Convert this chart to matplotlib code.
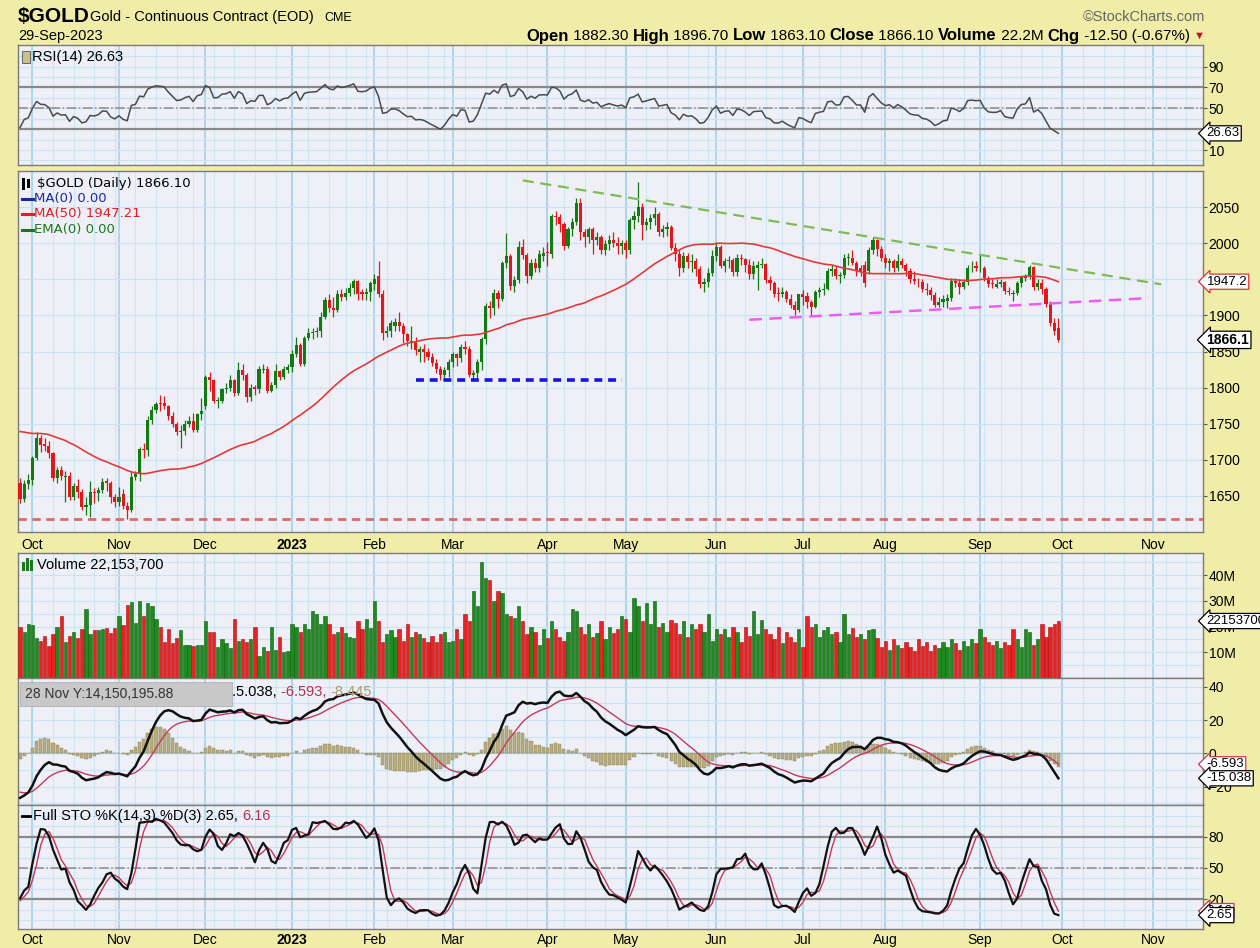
import numpy as np
import pandas as pd
import matplotlib
matplotlib.use("Agg")
import matplotlib.pyplot as plt
from matplotlib.lines import Line2D
from matplotlib.patches import Rectangle

W, H = 1260, 948
NARROW = ["Liberation Sans Narrow", "Liberation Sans", "DejaVu Sans"]
plt.rcParams["font.family"] = NARROW

BG = "#efeda8"
PANEL = "#eff0f7"
GREEN = "#137a13"
RED = "#e3161b"

# ---- data: $GOLD daily, 28-Sep-2022 .. 29-Sep-2023 ----
holidays = ["2022-11-24", "2022-12-26", "2023-01-02", "2023-01-16", "2023-02-20",
            "2023-04-07", "2023-05-29", "2023-06-19", "2023-07-04", "2023-09-04"]

# closes before the visible window (Jul..Sep 2022), used only to warm up the indicators
pre_closes = [1811, 1773, 1746, 1749, 1752, 1741, 1735, 1745, 1715, 1713,
              1719, 1721, 1705, 1728, 1737, 1729, 1727, 1747, 1760, 1782,
              1787, 1776, 1777, 1807, 1791, 1812, 1812, 1813, 1807, 1816,
              1797, 1790, 1776, 1771, 1762, 1748, 1761, 1761, 1771, 1750,
              1749, 1736, 1726, 1709, 1722, 1713, 1727, 1721, 1728, 1735,
              1712, 1709, 1677, 1683, 1678, 1671, 1675, 1681, 1655, 1640, 1662]
pre_highs = [1752, 1740, 1726, 1730, 1728, 1732, 1731, 1737, 1745, 1738,
             1716, 1708, 1690, 1690, 1686, 1688, 1690, 1684, 1659, 1668]
pre_lows = [1732, 1720, 1700, 1702, 1704, 1708, 1714, 1718, 1723, 1704,
            1696, 1665, 1667, 1663, 1660, 1655, 1668, 1646, 1624, 1633]

opens = [1668, 1646, 1667, 1672, 1702, 1730, 1722, 1719, 1709, 1675,
         1686, 1676, 1678, 1649, 1664, 1656, 1634, 1637, 1656, 1654,
         1658, 1670, 1668, 1648, 1641, 1652, 1636, 1630, 1676, 1680,
         1715, 1713, 1755, 1769, 1777, 1779, 1774, 1761, 1750, 1738,
         1740, 1749, 1754, 1741, 1763, 1775, 1815, 1810, 1781, 1782,
         1798, 1800, 1810, 1792, 1825, 1818, 1787, 1801, 1798, 1824,
         1826, 1795, 1804, 1823, 1815, 1824, 1828, 1846, 1859, 1833,
         1869, 1875, 1877, 1879, 1898, 1921, 1910, 1907, 1930, 1926,
         1931, 1938, 1947, 1932, 1929, 1932, 1944, 1955, 1930, 1876,
         1879, 1885, 1891, 1885, 1874, 1862, 1865, 1850, 1853, 1850,
         1842, 1834, 1826, 1817, 1824, 1836, 1846, 1841, 1856, 1854,
         1818, 1820, 1835, 1867, 1913, 1910, 1931, 1923, 1973, 1982,
         1941, 1949, 1995, 1983, 1954, 1973, 1965, 1982, 1986, 1985,
         2038, 2036, 2026, 1996, 2019, 2029, 2055, 2015, 2008, 2019,
         2005, 2009, 1990, 1999, 2005, 2000, 1996, 2000, 1991, 2032,
         2037, 2050, 2025, 2030, 2035, 2040, 2016, 2019, 2022, 1994,
         1985, 1965, 1982, 1974, 1975, 1964, 1944, 1946, 1959, 1982,
         1995, 1969, 1975, 1977, 1960, 1980, 1978, 1970, 1958, 1966,
         1970, 1971, 1949, 1945, 1930, 1929, 1933, 1923, 1915, 1908,
         1929, 1927, 1918, 1912, 1932, 1935, 1937, 1962, 1964, 1955,
         1956, 1979, 1980, 1972, 1965, 1970, 1962, 1990, 2004, 1992,
         1980, 1972, 1975, 1966, 1976, 1970, 1961, 1950, 1947, 1946,
         1937, 1935, 1928, 1915, 1918, 1920, 1924, 1948, 1945, 1940,
         1946, 1965, 1968, 1965, 1966, 1952, 1944, 1940, 1943, 1946,
         1934, 1929, 1931, 1945, 1952, 1954, 1967, 1940, 1945, 1936,
         1916, 1890, 1882.3]
highs = [1675, 1672, 1680, 1705, 1738, 1735, 1730, 1726, 1711, 1690,
         1691, 1685, 1683, 1668, 1673, 1660, 1648, 1670, 1661, 1662,
         1675, 1675, 1670, 1652, 1662, 1660, 1642, 1683, 1684, 1718,
         1723, 1760, 1774, 1780, 1790, 1788, 1776, 1766, 1752, 1748,
         1755, 1760, 1765, 1765, 1785, 1818, 1821, 1812, 1787, 1800,
         1806, 1818, 1812, 1836, 1832, 1820, 1805, 1804, 1830, 1832,
         1830, 1808, 1833, 1825, 1830, 1833, 1852, 1870, 1862, 1872,
         1883, 1882, 1884, 1905, 1925, 1930, 1925, 1935, 1937, 1938,
         1945, 1950, 1949, 1937, 1938, 1948, 1958, 1975, 1935, 1885,
         1893, 1897, 1905, 1890, 1876, 1885, 1870, 1857, 1860, 1855,
         1848, 1840, 1830, 1828, 1840, 1850, 1848, 1860, 1865, 1857,
         1825, 1840, 1870, 1917, 1920, 1937, 1935, 1975, 2014, 1985,
         1955, 2003, 2006, 1986, 1978, 1980, 1990, 1995, 2002, 2040,
         2044, 2040, 2030, 2022, 2035, 2063, 2062, 2020, 2022, 2023,
         2015, 2012, 2005, 2012, 2015, 2008, 2005, 2005, 2035, 2045,
         2085, 2056, 2035, 2040, 2050, 2043, 2025, 2030, 2025, 2000,
         1990, 1988, 1986, 1985, 1980, 1968, 1952, 1965, 1990, 2001,
         1998, 1980, 1982, 1980, 1985, 1985, 1980, 1978, 1975, 1975,
         1980, 1972, 1955, 1948, 1940, 1940, 1935, 1930, 1920, 1930,
         1935, 1932, 1922, 1935, 1940, 1945, 1965, 1970, 1968, 1960,
         1985, 1987, 1990, 1975, 1970, 1976, 1995, 2008, 2006, 1996,
         1985, 1980, 1978, 1985, 1980, 1972, 1965, 1962, 1952, 1950,
         1945, 1940, 1932, 1925, 1928, 1930, 1952, 1952, 1950, 1950,
         1970, 1975, 1975, 1985, 1968, 1955, 1950, 1950, 1950, 1948,
         1940, 1935, 1948, 1955, 1958, 1970, 1968, 1950, 1950, 1940,
         1920, 1897, 1896.7]
lows = [1640, 1642, 1660, 1665, 1700, 1711, 1712, 1702, 1670, 1668,
        1672, 1642, 1645, 1645, 1647, 1630, 1624, 1621, 1640, 1643,
        1654, 1657, 1640, 1635, 1636, 1632, 1618, 1628, 1672, 1670,
        1703, 1705, 1750, 1765, 1767, 1770, 1755, 1746, 1735, 1717,
        1735, 1745, 1738, 1738, 1755, 1770, 1795, 1778, 1772, 1778,
        1793, 1795, 1788, 1790, 1810, 1780, 1782, 1790, 1792, 1820,
        1792, 1794, 1800, 1810, 1812, 1820, 1822, 1842, 1830, 1830,
        1866, 1868, 1870, 1870, 1895, 1905, 1898, 1905, 1920, 1922,
        1927, 1930, 1922, 1922, 1922, 1920, 1935, 1925, 1866, 1870,
        1870, 1878, 1878, 1862, 1858, 1853, 1845, 1835, 1835, 1838,
        1830, 1820, 1810, 1810, 1815, 1828, 1830, 1835, 1847, 1815,
        1810, 1812, 1825, 1860, 1896, 1900, 1910, 1920, 1965, 1935,
        1932, 1945, 1978, 1945, 1950, 1960, 1960, 1976, 1968, 1980,
        2025, 2015, 1990, 1993, 2010, 2025, 2005, 1995, 2000, 1985,
        1998, 1985, 1983, 1990, 1995, 1985, 1985, 1980, 1985, 2020,
        2030, 2005, 2018, 2020, 2025, 2010, 2008, 2010, 1990, 1975,
        1955, 1960, 1965, 1960, 1955, 1938, 1932, 1940, 1955, 1975,
        1965, 1960, 1965, 1955, 1955, 1970, 1960, 1950, 1950, 1935,
        1965, 1945, 1935, 1925, 1920, 1925, 1918, 1910, 1900, 1905,
        1915, 1910, 1900, 1910, 1925, 1928, 1935, 1955, 1950, 1945,
        1952, 1970, 1970, 1955, 1955, 1940, 1958, 1985, 1982, 1975,
        1965, 1962, 1960, 1962, 1965, 1955, 1945, 1944, 1940, 1932,
        1928, 1922, 1912, 1912, 1912, 1910, 1920, 1940, 1930, 1937,
        1942, 1960, 1962, 1960, 1948, 1940, 1938, 1938, 1940, 1930,
        1928, 1920, 1928, 1940, 1948, 1950, 1935, 1935, 1930, 1912,
        1885, 1873, 1863.1]
closes = [1646, 1667, 1672, 1702, 1730, 1720, 1719, 1709, 1675, 1686,
          1677, 1678, 1649, 1664, 1656, 1634, 1637, 1656, 1654, 1658,
          1669, 1668, 1648, 1641, 1649, 1636, 1630, 1676, 1680, 1715,
          1713, 1755, 1769, 1777, 1776, 1774, 1761, 1750, 1738, 1740,
          1749, 1754, 1741, 1763, 1768, 1815, 1810, 1781, 1782, 1798,
          1800, 1810, 1792, 1825, 1818, 1787, 1800, 1798, 1826, 1826,
          1795, 1804, 1823, 1815, 1826, 1828, 1846, 1859, 1833, 1869,
          1875, 1877, 1879, 1898, 1921, 1910, 1907, 1930, 1926, 1931,
          1938, 1947, 1930, 1929, 1932, 1945, 1951, 1930, 1876, 1879,
          1890, 1891, 1885, 1874, 1864, 1865, 1852, 1853, 1850, 1842,
          1834, 1826, 1817, 1824, 1836, 1846, 1841, 1856, 1854, 1818,
          1820, 1835, 1867, 1913, 1910, 1931, 1923, 1973, 1982, 1941,
          1949, 1995, 1983, 1954, 1973, 1965, 1985, 1986, 1985, 2038,
          2036, 2026, 1996, 2019, 2029, 2055, 2015, 2008, 2019, 2005,
          2009, 1990, 1999, 2005, 2000, 1996, 2000, 1991, 2032, 2037,
          2050, 2025, 2030, 2035, 2040, 2016, 2019, 2022, 1994, 1985,
          1965, 1982, 1974, 1975, 1964, 1944, 1946, 1959, 1982, 1995,
          1969, 1975, 1977, 1960, 1980, 1978, 1970, 1958, 1969, 1970,
          1971, 1949, 1945, 1930, 1929, 1933, 1923, 1915, 1908, 1929,
          1926, 1918, 1912, 1932, 1935, 1937, 1962, 1964, 1955, 1956,
          1979, 1980, 1972, 1962, 1962, 1945, 1990, 2004, 1992, 1980,
          1972, 1975, 1966, 1976, 1970, 1961, 1950, 1947, 1946, 1937,
          1935, 1928, 1915, 1918, 1923, 1924, 1948, 1945, 1940, 1946,
          1965, 1966, 1965, 1966, 1952, 1944, 1943, 1943, 1946, 1934,
          1932, 1931, 1945, 1953, 1954, 1967, 1940, 1945, 1936, 1916,
          1890, 1878.6, 1866.1]
# volume in millions of contracts
volumes = [20.0, 18.0, 21.0, 20.5, 15.5, 14.5, 16.5, 12.5, 17.0, 20.0,
           24.0, 14.0, 16.5, 18.0, 15.5, 19.0, 27.0, 17.0, 18.5, 18.5,
           19.0, 19.5, 17.5, 19.5, 24.0, 20.5, 28.5, 29.5, 21.5, 30.0,
           24.0, 29.0, 28.0, 23.0, 20.0, 14.0, 19.0, 13.5, 15.5, 18.5,
           13.0, 13.0, 12.5, 13.0, 13.0, 22.0, 18.0, 18.0, 12.0, 15.0,
           13.5, 11.5, 23.0, 14.5, 15.0, 14.0, 15.0, 20.0, 8.5, 12.0,
           10.5, 20.0, 11.0, 16.0, 10.0, 10.5, 21.0, 20.0, 18.0, 21.0,
           19.0, 26.0, 25.0, 21.0, 24.0, 21.0, 17.0, 18.0, 20.0, 17.5,
           16.0, 15.5, 22.0, 19.0, 23.0, 19.5, 30.0, 22.0, 14.0, 17.0,
           18.5, 16.0, 19.0, 14.5, 21.0, 16.0, 18.0, 17.0, 15.5, 14.0,
           16.5, 14.0, 17.0, 18.0, 14.0, 14.5, 19.0, 15.0, 25.0, 22.0,
           34.0, 28.0, 45.0, 39.0, 38.0, 30.0, 34.0, 33.0, 25.0, 24.0,
           23.5, 28.0, 22.0, 17.0, 20.0, 18.0, 13.0, 19.0, 15.5, 22.0,
           19.0, 16.0, 14.5, 18.0, 27.0, 26.0, 20.0, 17.0, 21.0, 16.0,
           17.5, 22.0, 15.0, 20.0, 17.5, 19.0, 24.0, 23.0, 18.0, 31.0,
           28.0, 22.0, 29.0, 21.0, 30.0, 20.0, 21.5, 18.0, 22.5, 21.5,
           17.0, 22.0, 16.0, 21.0, 19.0, 21.0, 18.0, 25.0, 14.5, 19.0,
           17.0, 19.0, 16.0, 20.0, 18.0, 14.0, 20.0, 16.5, 26.0, 17.0,
           22.5, 19.0, 17.0, 15.0, 20.0, 13.5, 18.0, 16.0, 14.0, 19.0,
           12.0, 24.0, 20.0, 21.0, 16.0, 18.5, 20.0, 17.0, 18.0, 14.0,
           25.0, 17.0, 19.5, 16.0, 17.0, 15.0, 18.5, 19.0, 15.5, 12.0,
           14.5, 11.0, 15.0, 13.0, 11.5, 14.0, 12.0, 10.5, 15.0, 12.5,
           14.0, 10.5, 13.0, 11.5, 14.0, 12.0, 15.0, 13.5, 11.0, 14.5,
           12.5, 15.0, 13.5, 19.0, 16.0, 14.0, 13.0, 14.5, 11.5, 14.0,
           13.0, 19.0, 15.0, 12.0, 19.0, 18.0, 13.0, 15.0, 21.0, 16.0,
           20.0, 21.0, 22.1537]

# drawn trend lines: (start date, end date, start price, end price)
trend_green = ("2023-03-24", "2023-11-03", 2087, 1943)
trend_magenta = ("2023-06-13", "2023-10-31", 1894, 1924)
support_blue = ("2023-02-15", "2023-04-28", 1810.5, 1810.5)
support_red = 1618

# ---- calendar (trading days, incl. empty space to mid Nov 2023) ----
dates = pd.bdate_range("2022-09-28", "2023-11-17")
dates = dates[~dates.isin(pd.to_datetime(holidays))]
n = len(closes)
x = np.arange(n)
pos = {d.strftime("%Y-%m-%d"): i for i, d in enumerate(dates)}
weeks = [i for i in range(1, len(dates)) if dates[i].weekday() < dates[i - 1].weekday()]
months = [i for i in range(1, len(dates)) if dates[i].month != dates[i - 1].month]
month_labels = ["2023" if dates[i].month == 1 else dates[i].strftime("%b") for i in months]

# ---- indicators ----
c_all = pd.Series(pre_closes + closes, dtype=float)
ma50 = c_all.rolling(50).mean().to_numpy()[-n:]
diff = c_all.diff()
gain = diff.clip(lower=0).ewm(alpha=1 / 14, adjust=False).mean()
loss = (-diff.clip(upper=0)).ewm(alpha=1 / 14, adjust=False).mean()
rsi = (100 - 100 / (1 + gain / loss)).to_numpy()[-n:]
macd_s = c_all.ewm(span=12, adjust=False).mean() - c_all.ewm(span=26, adjust=False).mean()
sig_s = macd_s.ewm(span=9, adjust=False).mean()
macd = macd_s.to_numpy()[-n:]
signal = sig_s.to_numpy()[-n:]
hist = macd - signal

h_all = pd.Series(pre_highs + highs, dtype=float)
l_all = pd.Series(pre_lows + lows, dtype=float)
c_st = pd.Series(pre_closes[-len(pre_highs):] + closes, dtype=float)
hh = h_all.rolling(14).max()
ll = l_all.rolling(14).min()
full_k = (100 * (c_st - ll) / (hh - ll)).rolling(3).mean()
full_d = full_k.rolling(3).mean()
sto_k = full_k.to_numpy()[-n:]
sto_d = full_d.to_numpy()[-n:]
prev_close = c_all.shift(1).to_numpy()[-n:]

# ---- figure ----
fig = plt.figure(figsize=(W / 100, H / 100), dpi=100, facecolor=BG)


def panel(top, bottom, ylim, hgrid):
    ax = fig.add_axes([18 / W, 1 - bottom / H, (1203 - 18) / W, (bottom - top) / H], facecolor=PANEL)
    ax.set_xlim(-0.5, 287.1)
    ax.set_ylim(*ylim)
    for w in weeks:
        ax.axvline(w, color="#cde6f3", lw=0.8, zorder=0)
    for m in months:
        ax.axvline(m, color="#9dcfea", lw=1.1, zorder=0)
    for v in hgrid:
        ax.axhline(v, color="#c8e3f1", lw=0.9, zorder=0)
    for s in ax.spines.values():
        s.set_color("#7a7a7a")
        s.set_linewidth(1.0)
    ax.yaxis.tick_right()
    ax.tick_params(axis="y", labelsize=10, length=3, pad=1, color="#555555")
    ax.tick_params(axis="x", length=0, labelbottom=False)
    return ax


def value_box(ax, y, text, edge="black", bold=False, size=9.5):
    ax.text(1.003, y, text, transform=ax.get_yaxis_transform(), ha="left", va="center",
            fontsize=size, fontweight="bold" if bold else "normal", clip_on=False, zorder=10,
            bbox=dict(boxstyle="larrow,pad=0.12", fc="white", ec=edge, lw=0.9))


def pieces(x0, y0, parts, family=None, right=False):
    r = fig.canvas.get_renderer()
    kw = {"family": family} if family else {}
    texts = [fig.text(0, 1 - y0 / H, s, color=c, fontweight=wt, fontsize=sz,
                      ha="left", va="center", **kw) for s, c, wt, sz in parts]
    widths = [t.get_window_extent(renderer=r).width for t in texts]
    if right:
        x0 -= sum(widths)
    for t, w in zip(texts, widths):
        t.set_x(x0 / W)
        x0 += w


def legend_dash(x0, y0, color, length=10, lw=2.2):
    fig.add_artist(Line2D([x0 / W, (x0 + length) / W], [1 - y0 / H, 1 - y0 / H], color=color, lw=lw))


# RSI
ax_r = panel(45, 165, (-4.4, 110.8), range(0, 101, 10))
ax_r.axhline(70, color="#8a8a8a", lw=1.6, zorder=1)
ax_r.axhline(30, color="#8a8a8a", lw=1.6, zorder=1)
ax_r.axhline(50, color="#8a8a8a", lw=1.1, ls="-.", zorder=1)
ax_r.plot(x, rsi, color="#4a4a4a", lw=1.1, zorder=3)
ax_r.set_yticks([10, 50, 70, 90])
value_box(ax_r, rsi[-1], "26.63")

# Price
ax_p = panel(171, 532, (1600, 2100), range(1650, 2051, 50))
o_a, h_a, l_a, c_a = map(np.array, (opens, highs, lows, closes))
cols = np.where(c_a >= o_a, GREEN, RED)
body = np.where(np.abs(c_a - o_a) < 1.2, 1.2, c_a - o_a)
ax_p.vlines(x, l_a, h_a, colors=cols, lw=0.9, zorder=3)
ax_p.bar(x, body, bottom=o_a, width=0.76, color=cols, lw=0, zorder=4)
ax_p.plot(x, ma50, color="#e23a3a", lw=1.2, zorder=5)
ax_p.axhline(support_red, color="#e06868", lw=2.0, ls=(0, (3, 2)), zorder=2)
for (d0, d1, p0, p1), col, lw, dash in [(trend_green, "#7fbb55", 1.6, (0, (5, 3))),
                                       (trend_magenta, "#f05cf0", 1.8, (0, (5, 3))),
                                       (support_blue, "#1515e0", 2.6, (0, (2.2, 1.6)))]:
    ax_p.plot([pos[d0], pos[d1]], [p0, p1], color=col, lw=lw, ls=dash, zorder=6)
ax_p.set_yticks(range(1650, 2051, 50))
value_box(ax_p, ma50[-1], "1947.2", edge="#e03030")
value_box(ax_p, closes[-1], "1866.1", bold=True, size=10)
ax_p.set_xticks(months)
ax_p.set_xticklabels(month_labels)
ax_p.tick_params(axis="x", labelbottom=True, labelsize=10, pad=4)

# Volume
ax_v = panel(553, 678, (0, 48.6), range(5, 46, 5))
vcols = np.where(c_a >= prev_close, "#1f8a1f", "#e82222")
vedge = np.where(c_a >= prev_close, "#0d5e0d", "#a81010")
ax_v.bar(x, volumes, width=0.8, color=vcols, edgecolor=vedge, lw=0.4, zorder=3)
ax_v.set_yticks([10, 20, 30, 40])
ax_v.set_yticklabels(["10M", "20M", "30M", "40M"])
value_box(ax_v, volumes[-1], "22153700")

# MACD
ax_m = panel(678, 805, (-31, 45.2), range(-30, 41, 10))
ax_m.axhline(0, color="#b0c8d8", lw=0.9, zorder=1)
ax_m.bar(x, hist, width=0.75, color="#b8ad7f", edgecolor="#857d55", lw=0.3, zorder=2)
ax_m.plot(x, signal, color="#c4385c", lw=1.0, zorder=3)
ax_m.plot(x, macd, color="#111111", lw=1.8, zorder=4)
ax_m.set_yticks([-20, 0, 20, 40])
value_box(ax_m, signal[-1], "-6.593", edge="#c4385c")
value_box(ax_m, macd[-1], "-15.038")

# Full STO
ax_s = panel(805, 929, (-8.5, 110.4), range(0, 101, 10))
ax_s.axhline(80, color="#8a8a8a", lw=1.6, zorder=1)
ax_s.axhline(20, color="#8a8a8a", lw=1.6, zorder=1)
ax_s.axhline(50, color="#8a8a8a", lw=1.1, ls="-.", zorder=1)
ax_s.plot(x, sto_d, color="#c4385c", lw=1.0, zorder=3)
ax_s.plot(x, sto_k, color="#111111", lw=1.6, zorder=4)
ax_s.set_yticks([20, 50, 80])
value_box(ax_s, sto_d[-1], "6.16", edge="#c4385c")
value_box(ax_s, sto_k[-1], "2.65")
ax_s.set_xticks(months)
ax_s.set_xticklabels(month_labels)
ax_s.tick_params(axis="x", labelbottom=True, labelsize=10, pad=3)

for ax in (ax_p, ax_s):
    for lab in ax.get_xticklabels():
        if lab.get_text() == "2023":
            lab.set_fontweight("bold")

# ---- header ----
fig.text(18 / W, 1 - 17 / H, "$GOLD", fontsize=15, fontweight="bold", va="center")
fig.text(90 / W, 1 - 17 / H, "Gold - Continuous Contract (EOD)", fontsize=10.5, va="center")
fig.text(324 / W, 1 - 18 / H, "CME", fontsize=9, va="center")
fig.text(1205 / W, 1 - 17 / H, "\u00a9StockCharts.com", fontsize=10.5, color="#666666",
         ha="right", va="center")
fig.text(18 / W, 1 - 36 / H, "29-Sep-2023", fontsize=10.5, va="center")
pieces(1205, 36, [("Open", "black", "bold", 12), (" 1882.30 ", "black", "normal", 11),
                  ("High", "black", "bold", 12), (" 1896.70 ", "black", "normal", 11),
                  ("Low", "black", "bold", 12), (" 1863.10 ", "black", "normal", 11),
                  ("Close", "black", "bold", 12), (" 1866.10 ", "black", "normal", 11),
                  ("Volume", "black", "bold", 12), (" 22.2M ", "black", "normal", 11),
                  ("Chg", "black", "bold", 12), (" -12.50 (-0.67%) ", "black", "normal", 11),
                  ("\u25bc", "#c0102a", "normal", 8)], family=NARROW + ["DejaVu Sans"], right=True)

# ---- panel legends ----
pieces(32, 57, [("RSI(14) 26.63", "black", "normal", 10.5)])
fig.add_artist(Rectangle((22 / W, 1 - 63 / H), 8 / W, 12 / H, fc="#c9c18a", ec="#555555", lw=0.6))

fig.text(37 / W, 1 - 184 / H, "$GOLD (Daily) 1866.10", fontsize=9.5, family="DejaVu Sans", va="center")
fig.add_artist(Rectangle((22 / W, 1 - 190 / H), 3 / W, 12 / H, fc="black", lw=0))
fig.add_artist(Rectangle((27 / W, 1 - 188 / H), 3 / W, 9 / H, fc="black", lw=0))
for yy, label, col in [(199, "MA(0) 0.00", "#1a2aa0"), (214, "MA(50) 1947.21", "#e02020"),
                       (230, "EMA(0) 0.00", "#1a7a1a")]:
    legend_dash(22, yy, col, length=11)
    fig.text(34 / W, 1 - yy / H, label, fontsize=9.5, family="DejaVu Sans", color=col, va="center")

fig.add_artist(Rectangle((22 / W, 1 - 571 / H), 3 / W, 9 / H, fc="#1a7a1a", lw=0))
fig.add_artist(Rectangle((26 / W, 1 - 571 / H), 3 / W, 13 / H, fc="#1a7a1a", lw=0))
fig.add_artist(Rectangle((30 / W, 1 - 571 / H), 3 / W, 11 / H, fc="#1a7a1a", lw=0))
pieces(37, 565, [("Volume 22,153,700", "black", "normal", 10.5)])

fig.add_artist(Rectangle((20 / W, 1 - 706 / H), 212 / W, 24 / H, fc="#c8c8c8", ec="#b0b0b0", lw=0.6))
pieces(25, 694, [("28 Nov Y:14,150,195.88", "#333333", "normal", 10)])
pieces(232, 692, [(".5.038, ", "black", "normal", 10.5), ("-6.593, ", "#b8304f", "normal", 10.5),
                  ("-8.445", "#a89e6a", "normal", 10.5)])

legend_dash(22, 816, "black", length=8, lw=2.0)
pieces(33, 816, [("Full STO %K(14,3) %D(3) 2.65, ", "black", "normal", 10.5),
                 ("6.16", "#b8304f", "normal", 10.5)])

fig.savefig("out.png", dpi=100, facecolor=BG)
